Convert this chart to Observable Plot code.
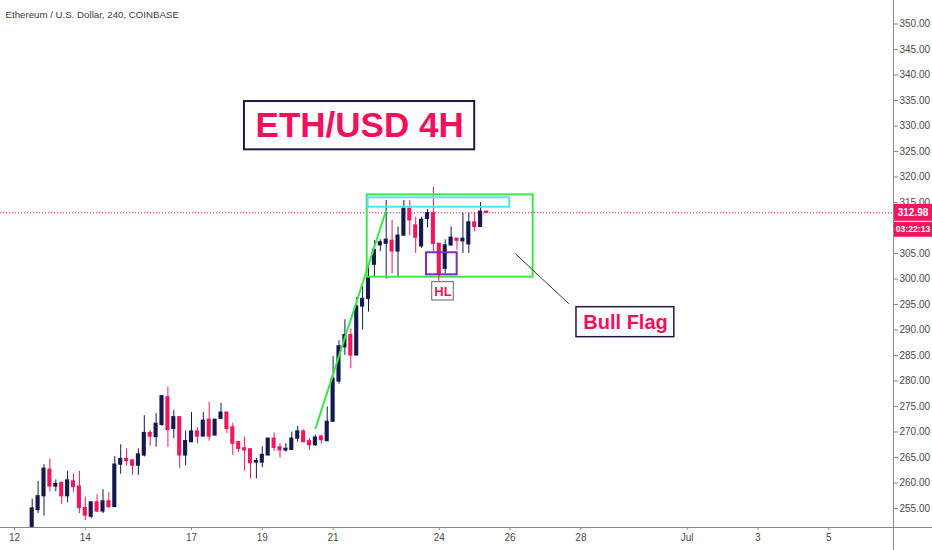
<!DOCTYPE html>
<html><head><meta charset="utf-8">
<script src="https://cdn.jsdelivr.net/npm/d3@7"></script>
<script src="https://cdn.jsdelivr.net/npm/@observablehq/plot@0.6"></script>
<style>
html,body{margin:0;padding:0;background:#fff;}
#chart{width:932px;height:550px;}
</style></head><body><div id="chart"></div>
<script>
// ---- data (4h candles, ETH/USD Coinbase, June 2019) ----
const firstBar = Date.UTC(2019, 5, 12, 12);
const barHours = 4;
const opens = [251.0,254.7,257.4,262.6,259.3,260.0,257.4,260.3,259.3,255.1,
  253.4,256.2,254.4,256.4,255.3,263.6,264.7,264.4,263.4,265.4,
  269.8,269.0,271.4,276.8,270.6,272.9,265.4,268.0,270.1,269.1,
  272.4,269.3,272.6,273.8,270.9,268.0,266.8,266.6,264.0,264.0,
  265.4,268.7,267.0,266.4,266.5,268.7,270.1,268.2,267.4,269.1,
  268.2,272.0,279.9,286.6,289.0,285.0,294.6,296.1,302.8,306.6,
  306.9,307.5,305.4,308.5,313.8,310.5,306.4,311.8,312.9,306.9,
  302.0,306.6,307.9,307.4,306.8,311.1,310.2,313.2];
const highs = [256.8,260.3,263.6,264.7,260.6,260.2,262.3,261.8,262.3,257.2,
  256.2,257.7,258.7,258.1,265.2,267.5,266.7,264.6,266.7,273.2,
  270.3,273.6,277.2,278.8,274.2,273.0,270.2,273.8,270.9,273.8,
  275.8,272.4,275.6,273.9,271.7,268.1,269.0,266.7,264.8,267.1,
  268.7,269.8,267.7,267.7,270.0,271.1,270.4,268.7,269.4,269.4,
  274.9,284.8,287.9,292.0,290.2,296.4,298.5,302.6,307.5,307.7,
  315.4,311.5,310.2,315.4,315.4,312.1,312.1,313.6,318.0,306.9,
  307.7,310.2,307.9,312.9,312.8,312.9,315.0,313.3];
const lows = [250.0,254.0,253.5,258.2,258.3,255.8,256.1,258.2,254.0,252.6,
  253.0,254.2,254.0,255.0,255.1,261.7,263.3,261.5,261.5,265.1,
  267.2,267.0,271.1,267.0,268.7,262.8,263.4,268.0,267.7,269.1,
  268.2,269.3,272.4,269.7,265.4,266.0,262.3,260.8,260.8,263.0,
  265.4,266.2,264.9,266.0,266.5,268.0,268.0,266.4,267.2,267.6,
  268.2,272.0,279.4,285.0,282.4,285.0,290.0,293.5,300.4,305.4,
  300.0,301.0,300.4,308.5,308.5,305.0,306.0,310.0,305.3,300.4,
  301.0,306.4,305.6,305.0,305.0,309.2,310.2,312.9];
const closes = [255.0,257.4,262.8,259.3,259.8,257.4,260.5,259.2,255.1,253.6,
  256.2,254.4,256.4,255.3,263.6,264.7,264.3,263.4,265.6,269.8,
  269.1,271.6,277.0,270.4,272.9,265.4,268.2,270.1,269.1,272.2,
  269.1,272.4,273.8,270.6,267.7,266.7,266.4,263.9,264.3,265.5,
  268.7,266.9,266.4,266.7,268.7,270.1,268.0,267.4,268.9,268.4,
  272.0,280.4,286.8,289.0,285.0,294.6,296.1,300.2,305.7,307.2,
  307.7,305.4,308.5,313.8,311.5,308.1,311.6,312.9,306.9,301.0,
  306.6,308.1,307.5,307.9,311.1,310.2,313.2,312.98];
const xTickDates = ["2019-06-12","2019-06-14","2019-06-17","2019-06-19","2019-06-21",
  "2019-06-24","2019-06-26","2019-06-28","2019-07-01","2019-07-03","2019-07-05"];
// 310.00 is hidden behind the price badges in the reference
const yTicks = [255,260,265,270,275,280,285,290,295,300,305,315,320,325,330,335,340,345,350];
const lastPrice = 312.98;
const countdown = "03:22:13";
const title = "Ethereum / U.S. Dollar, 240, COINBASE";

// annotations (time, price)
const trendLine = [{x1:"2019-06-20T12:00Z", y1:270.6, x2:"2019-06-22T12:00Z", y2:313.5}];
const flagBox = [{x1:"2019-06-21T23:07Z", x2:"2019-06-26T15:40Z", y1:300.35, y2:316.5}];
const topBox = [{x1:"2019-06-21T23:45Z", x2:"2019-06-25T23:45Z", y1:314.08, y2:315.92}];
const hlBox = [{x1:"2019-06-23T15:20Z", x2:"2019-06-24T12:07Z", y1:300.82, y2:305.14}];
const hlLabel = [{x1:"2019-06-23T19:12Z", x2:"2019-06-24T09:50Z", y1:295.78, y2:299.37, xt:"2019-06-24T02:30Z", yt:297.55, text:"HL"}];
const hlConnector = [{x:"2019-06-23T23:40Z", y1:299.37, y2:300.82}];
const titleBox = [{x1:"2019-06-18T11:55Z", x2:"2019-06-25T00:00Z", y1:325.33, y2:334.8, xt:"2019-06-21T18:00Z", yt:330.0, text:"ETH/USD 4H"}];
const flagLabel = [{x1:"2019-06-27T21:00Z", x2:"2019-06-30T15:20Z", y1:288.59, y2:294.47, xt:"2019-06-29T06:15Z", yt:291.5, text:"Bull Flag"}];
const flagPointer = [{x1:"2019-06-26T03:40Z", y1:304.94, x2:"2019-06-27T15:50Z", y2:295.14}];

const UP = "#141a4f", DOWN = "#f0175e", GREEN = "#3be84a", CYAN = "#52e3f2", PURPLE = "#7f2bc4", NAVY = "#1d1a4a", CRIMSON = "#f2105d";
const HOUR = 3600e3, DAY = 24*HOUR;
const candles = opens.map((o, i) => ({
  t: new Date(firstBar + i*barHours*HOUR), o, h: highs[i], l: lows[i], c: closes[i], up: closes[i] >= o
}));
const toD = s => new Date(s);
const d0 = Date.UTC(2019, 5, 12);
const W = 932, H = 550, mR = 39, mB = 23;
const font = "'Liberation Sans', Arial, sans-serif";

const chart = Plot.plot({
  width: W, height: H,
  marginLeft: 0, marginRight: mR, marginTop: 0, marginBottom: mB,
  style: {fontFamily: font, fontSize: "10px", background: "#fff", overflow: "visible"},
  x: {type: "utc", domain: [new Date(d0 - 14/35.4*DAY), new Date(d0 + 879/35.4*DAY)]},
  y: {domain: [251.27, 354.61]},
  marks: [
    Plot.axisX({ticks: xTickDates.map(toD), tickFormat: d => d.getUTCDate() === 1 ? "Jul" : String(d.getUTCDate()),
      tickSize: 3, tickPadding: 3, stroke: "#888", fill: "#4a4a4a", fontSize: 10, label: null}),
    Plot.axisY({anchor: "right", ticks: yTicks, tickFormat: d => d.toFixed(2),
      tickSize: 4, tickPadding: 2, stroke: "#888", fill: "#4a4a4a", fontSize: 10, label: null}),
    Plot.ruleY([lastPrice], {stroke: DOWN, strokeDasharray: "1.2,1.8", strokeWidth: 1}),
    Plot.ruleX(candles, {x: "t", y1: "l", y2: "h", stroke: d => d.up ? UP : DOWN, strokeWidth: 1, clip: true}),
    Plot.rect(candles, {
      x1: d => new Date(+d.t - 1.4*HOUR), x2: d => new Date(+d.t + 1.4*HOUR),
      y1: d => Math.min(d.o, d.c), y2: d => Math.max(d.o, d.c),
      insetTop: -0.6, insetBottom: -0.6,
      fill: d => d.up ? UP : DOWN, clip: true}),
    // annotations
    Plot.link(trendLine, {x1: d => toD(d.x1), y1: "y1", x2: d => toD(d.x2), y2: "y2", stroke: GREEN, strokeWidth: 2}),
    Plot.rect(flagBox, {x1: d => toD(d.x1), x2: d => toD(d.x2), y1: "y1", y2: "y2", fill: "none", stroke: GREEN, strokeWidth: 2}),
    Plot.rect(topBox, {x1: d => toD(d.x1), x2: d => toD(d.x2), y1: "y1", y2: "y2", fill: "none", stroke: CYAN, strokeWidth: 2}),
    Plot.rect(hlBox, {x1: d => toD(d.x1), x2: d => toD(d.x2), y1: "y1", y2: "y2", fill: "none", stroke: PURPLE, strokeWidth: 2}),
    Plot.ruleX(hlConnector, {x: d => toD(d.x), y1: "y1", y2: "y2", stroke: DOWN, strokeWidth: 1}),
    Plot.rect(hlLabel, {x1: d => toD(d.x1), x2: d => toD(d.x2), y1: "y1", y2: "y2", fill: "#fff", stroke: "#666", strokeWidth: 1}),
    Plot.text(hlLabel, {x: d => toD(d.xt), y: "yt", text: "text", fill: CRIMSON, fontSize: 13, fontWeight: "bold"}),
    Plot.rect(titleBox, {x1: d => toD(d.x1), x2: d => toD(d.x2), y1: "y1", y2: "y2", fill: "#fdfcff", stroke: NAVY, strokeWidth: 2}),
    Plot.text(titleBox, {x: d => toD(d.xt), y: "yt", text: "text", fill: CRIMSON, fontSize: 35, fontWeight: "bold"}),
    Plot.link(flagPointer, {x1: d => toD(d.x1), y1: "y1", x2: d => toD(d.x2), y2: "y2", stroke: "#333", strokeWidth: 1}),
    Plot.rect(flagLabel, {x1: d => toD(d.x1), x2: d => toD(d.x2), y1: "y1", y2: "y2", fill: "#fdfcff", stroke: NAVY, strokeWidth: 1.5}),
    Plot.text(flagLabel, {x: d => toD(d.xt), y: "yt", text: "text", fill: CRIMSON, fontSize: 20, fontWeight: "bold"}),
    Plot.text([title], {frameAnchor: "top-left", dx: 5, dy: 14, textAnchor: "start", lineAnchor: "middle", fill: "#3a3a3a", fontSize: 9.7})
  ]
});
document.getElementById("chart").appendChild(chart);

// axis lines and right-hand price badges (positioned through the plot's y scale)
const svg = d3.select(chart);
const xr = W - mR, yb = H - mB;
svg.append("line").attr("x1", xr + 0.5).attr("x2", xr + 0.5).attr("y1", 0).attr("y2", H).attr("stroke", "#888");
svg.append("line").attr("x1", 0).attr("x2", W).attr("y1", yb + 0.5).attr("y2", yb + 0.5).attr("stroke", "#888");
const yPx = chart.scale("y").apply(lastPrice);
const g = svg.append("g").attr("font-family", font).attr("fill", "#fff").attr("text-anchor", "middle");
g.append("rect").attr("x", xr + 1).attr("y", yPx - 8.5).attr("width", mR - 1).attr("height", 17).attr("fill", DOWN);
g.append("text").attr("x", xr + 1 + (mR - 1)/2).attr("y", yPx).attr("dy", "0.35em").attr("font-size", 10).attr("font-weight", "bold").text(lastPrice.toFixed(2));
g.append("rect").attr("x", xr + 1).attr("y", yPx + 9.5).attr("width", mR - 1).attr("height", 15).attr("fill", DOWN);
g.append("text").attr("x", xr + 1 + (mR - 1)/2).attr("y", yPx + 17).attr("dy", "0.35em").attr("font-size", 8.6).attr("font-weight", "bold").text(countdown);
</script></body></html>
